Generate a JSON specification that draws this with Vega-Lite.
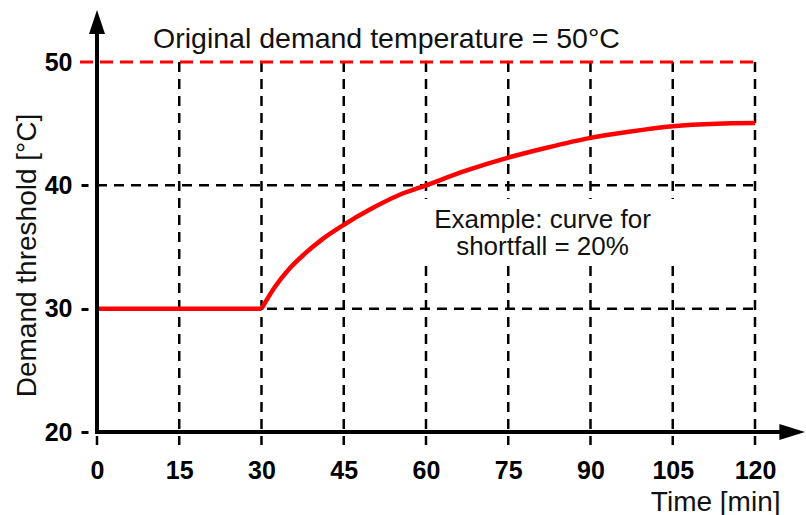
{
  "$schema": "https://vega.github.io/schema/vega-lite/v6.json",
  "width": 708,
  "height": 422,
  "autosize": {"type": "none"},
  "padding": {"left": 97, "top": 10, "right": 1, "bottom": 83},
  "background": "white",
  "config": {"view": {"stroke": null}, "font": "Liberation Sans"},
  "datasets": {
    "curve": [
      {"t": 0, "threshold": 30, "phase": "hold"},
      {"t": 30, "threshold": 30, "phase": "hold"},
      {"t": 30, "threshold": 30, "phase": "recovery"},
      {"t": 32.5, "threshold": 31.8, "phase": "recovery"},
      {"t": 35, "threshold": 33.2, "phase": "recovery"},
      {"t": 38, "threshold": 34.5, "phase": "recovery"},
      {"t": 41, "threshold": 35.6, "phase": "recovery"},
      {"t": 45, "threshold": 36.8, "phase": "recovery"},
      {"t": 50, "threshold": 38.1, "phase": "recovery"},
      {"t": 55, "threshold": 39.2, "phase": "recovery"},
      {"t": 60, "threshold": 40.0, "phase": "recovery"},
      {"t": 67, "threshold": 41.15, "phase": "recovery"},
      {"t": 75, "threshold": 42.25, "phase": "recovery"},
      {"t": 82, "threshold": 43.05, "phase": "recovery"},
      {"t": 90, "threshold": 43.85, "phase": "recovery"},
      {"t": 97, "threshold": 44.35, "phase": "recovery"},
      {"t": 105, "threshold": 44.8, "phase": "recovery"},
      {"t": 113, "threshold": 45.0, "phase": "recovery"},
      {"t": 120, "threshold": 45.05, "phase": "recovery"}
    ],
    "vgrid": [
      {"t": 0}, {"t": 15}, {"t": 30}, {"t": 45}, {"t": 60},
      {"t": 75}, {"t": 90}, {"t": 105}, {"t": 120}
    ],
    "hgrid": [{"v": 30}, {"v": 40}],
    "reference": [{"temp": 50}],
    "note": [
      {"t": 81.25, "v": 36.54, "text": "Example: curve for"},
      {"t": 81.25, "v": 34.35, "text": "shortfall = 20%"}
    ],
    "heading": [
      {"t": 52.8, "v": 51.1, "text": "Original demand temperature = 50°C"}
    ],
    "blank": [{}]
  },
  "layer": [
    {
      "data": {"name": "curve"},
      "mark": {"type": "line", "color": "#ff0000", "strokeWidth": 4.5, "interpolate": "monotone", "opacity": 0},
      "encoding": {
        "x": {
          "field": "t",
          "type": "quantitative",
          "scale": {"domain": [0, 129.12], "nice": false, "zero": false},
          "axis": {
            "values": [0, 15, 30, 45, 60, 75, 90, 105, 120],
            "domain": false,
            "ticks": false,
            "grid": false,
            "labelFont": "Liberation Sans",
            "labelFontSize": 25,
            "labelFontWeight": "bold",
            "labelColor": "black",
            "labelBaseline": "alphabetic",
            "labelPadding": 46,
            "labelFlush": false,
            "title": "Time [min]",
            "titleFont": "Liberation Sans",
            "titleFontSize": 28,
            "titleFontWeight": "normal",
            "titleColor": "#111111",
            "titleAlign": "right",
            "titleBaseline": "alphabetic",
            "titleX": 683,
            "titleY": 78
          }
        },
        "y": {
          "field": "threshold",
          "type": "quantitative",
          "scale": {"domain": [20, 54.22], "nice": false, "zero": false},
          "axis": {
            "values": [20, 30, 40, 50],
            "domain": false,
            "grid": false,
            "offset": 9,
            "ticks": true,
            "tickSize": 7,
            "tickWidth": 3,
            "tickColor": "black",
            "tickOpacity": {"condition": {"test": "datum.value === 50", "value": 0}, "value": 1},
            "labelFont": "Liberation Sans",
            "labelFontSize": 25,
            "labelFontWeight": "bold",
            "labelColor": "black",
            "labelPadding": 9,
            "labelBaseline": "middle",
            "labelFlush": false,
            "title": "Demand threshold [°C]",
            "titleFont": "Liberation Sans",
            "titleFontSize": 28,
            "titleFontWeight": "normal",
            "titleColor": "#111111",
            "titleAngle": -90,
            "titleAlign": "center",
            "titleBaseline": "alphabetic",
            "titleX": -53,
            "titleY": 245
          }
        },
        "detail": {"field": "phase"}
      }
    },
    {
      "data": {"name": "vgrid"},
      "mark": {"type": "rule", "color": "black", "strokeWidth": 2.5, "strokeDash": [10, 7]},
      "encoding": {
        "x": {"field": "t", "type": "quantitative"},
        "y": {"datum": 50, "type": "quantitative"},
        "y2": {"datum": 18.95}
      }
    },
    {
      "data": {"name": "hgrid"},
      "mark": {"type": "rule", "color": "black", "strokeWidth": 2.5, "strokeDash": [10, 7]},
      "encoding": {
        "x": {"datum": 0, "type": "quantitative"},
        "x2": {"datum": 120},
        "y": {"field": "v", "type": "quantitative"}
      }
    },
    {
      "data": {"name": "reference"},
      "mark": {"type": "rule", "color": "#ff0000", "strokeWidth": 3, "strokeDash": [13, 7]},
      "encoding": {
        "x": {"datum": -3.1, "type": "quantitative"},
        "x2": {"datum": 120},
        "y": {"field": "temp", "type": "quantitative"}
      }
    },
    {
      "data": {"name": "blank"},
      "mark": {"type": "rect", "color": "white"},
      "encoding": {
        "x": {"datum": 59, "type": "quantitative"},
        "x2": {"datum": 107},
        "y": {"datum": 33.6, "type": "quantitative"},
        "y2": {"datum": 38.9}
      }
    },
    {
      "data": {"name": "note"},
      "mark": {"type": "text", "fontSize": 26, "color": "#111111", "align": "center", "baseline": "alphabetic"},
      "encoding": {
        "x": {"field": "t", "type": "quantitative"},
        "y": {"field": "v", "type": "quantitative"},
        "text": {"field": "text"}
      }
    },
    {
      "data": {"name": "heading"},
      "mark": {"type": "text", "fontSize": 28.5, "color": "#111111", "align": "center", "baseline": "alphabetic"},
      "encoding": {
        "x": {"field": "t", "type": "quantitative"},
        "y": {"field": "v", "type": "quantitative"},
        "text": {"field": "text"}
      }
    },
    {
      "data": {"name": "curve"},
      "mark": {"type": "line", "color": "#ff0000", "strokeWidth": 4.5, "interpolate": "monotone"},
      "encoding": {
        "x": {"field": "t", "type": "quantitative"},
        "y": {"field": "threshold", "type": "quantitative"},
        "detail": {"field": "phase"}
      }
    },
    {
      "data": {"name": "blank"},
      "mark": {"type": "rule", "color": "black", "strokeWidth": 4},
      "encoding": {
        "x": {"datum": 0, "type": "quantitative"},
        "y": {"datum": 20, "type": "quantitative"},
        "y2": {"datum": 53}
      }
    },
    {
      "data": {"name": "blank"},
      "mark": {"type": "rule", "color": "black", "strokeWidth": 4},
      "encoding": {
        "x": {"datum": -0.36, "type": "quantitative"},
        "x2": {"datum": 127},
        "y": {"datum": 20, "type": "quantitative"}
      }
    },
    {
      "data": {"name": "blank"},
      "mark": {"type": "point", "shape": "M0,0L-3.2,-1L-3.2,1Z", "size": 256, "filled": true, "color": "black", "opacity": 1},
      "encoding": {
        "x": {"datum": 129.12, "type": "quantitative"},
        "y": {"datum": 20, "type": "quantitative"}
      }
    },
    {
      "data": {"name": "blank"},
      "mark": {"type": "point", "shape": "M0,0L-1,3L1,3Z", "size": 256, "filled": true, "color": "black", "opacity": 1},
      "encoding": {
        "x": {"datum": 0, "type": "quantitative"},
        "y": {"datum": 54.22, "type": "quantitative"}
      }
    }
  ]
}
